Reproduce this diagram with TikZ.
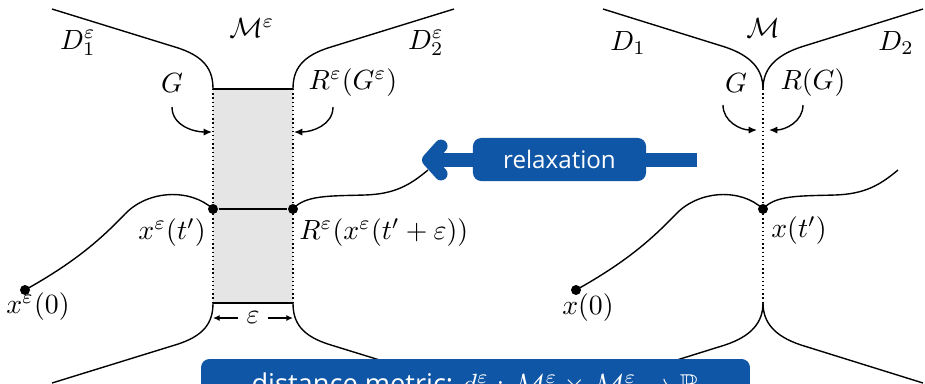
\documentclass[tikz,border=0pt]{standalone}
\usepackage{amsmath,amssymb}
\usepackage{fontspec}
\newfontfamily\boxfont{Open Sans}
\usetikzlibrary{positioning,calc,arrows.meta}
\definecolor{relaxblue}{RGB}{16,86,166}
\tikzset{
  bnd/.style={draw=black, line width=0.5pt},
  gapline/.style={draw=black, densely dotted, line width=0.5pt},
  gapfill/.style={fill=black!10},
  traj/.style={draw=black, line width=0.5pt},
  dot/.style={circle, fill=black, minimum size=3.6pt, inner sep=0pt},
  hook/.style={-{Latex[length=3pt,width=2.6pt]}, line width=0.5pt},
  epsarr/.style={-{Latex[length=2.4pt,width=2.2pt]}, line width=0.5pt},
  lbl/.style={inner sep=1pt},
  bluebox/.style={rectangle, rounded corners=3pt, fill=relaxblue, text=white, font=\boxfont\fontsize{8.7}{10}\selectfont, minimum height=15.5pt, inner sep=2pt},
  bluearr/.style={draw=relaxblue, line width=4.7pt, -{Straight Barb[round,length=4.5pt,width=10pt]}}
}
\begin{document}
\begin{tikzpicture}[x=0.36pt, y=-0.36pt]
  \useasboundingbox (0,0) rectangle (925,383);
  % relaxed junction
  \coordinate (tl) at (213,89);
  \coordinate (tr) at (293,89);
  \coordinate (bl) at (213,303);
  \coordinate (br) at (293,303);
  \fill[gapfill] (tl) rectangle (br);
  \draw[gapline] (tl) -- (bl);
  \draw[gapline] (tr) -- (br);
  \draw[bnd] (tl) -- (tr);
  \draw[bnd] (bl) -- (br);
  \draw[bnd] (52,9) -- (175,47) .. controls (205,56) and (213,70) .. (tl);
  \draw[bnd] (tr) .. controls (293,70) and (301,56) .. (331,47) -- (454,9);
  \draw[bnd] (bl) .. controls (213,322) and (205,336) .. (175,345) -- (52,383);
  \draw[bnd] (br) .. controls (293,322) and (301,336) .. (331,345) -- (454,383);
  % sharp junction
  \coordinate (ct) at (763,89);
  \coordinate (cb) at (763,303);
  \draw[gapline] (ct) -- (cb);
  \draw[bnd] (603,9) -- (725,47) .. controls (752,56) and (763,70) .. (ct);
  \draw[bnd] (ct) .. controls (763,70) and (774,56) .. (801,47) -- (923,9);
  \draw[bnd] (cb) .. controls (763,322) and (752,336) .. (725,345) -- (603,383);
  \draw[bnd] (cb) .. controls (763,322) and (774,336) .. (801,345) -- (923,383);
  % trajectories
  \node[dot] (x0eps) at (25,290) {};
  \node[dot] (xteps) at (213,209) {};
  \node[dot] (Rxeps) at (293,209) {};
  \coordinate (endeps) at (428,170);
  \node[dot] (x0) at (576,290) {};
  \node[dot] (xt) at (763,209) {};
  \coordinate (endx) at (898,170);
  \draw[traj] (x0eps.center) .. controls (75,262) and (100,240) .. (125,214)
    .. controls (148,190) and (190,188) .. (xteps.center);
  \draw[traj] (xteps) -- (Rxeps);
  \draw[traj] (Rxeps.center) .. controls (305,195) and (330,196) .. (365,195)
    .. controls (395,194) and (410,185) .. (endeps);
  \draw[traj] (x0.center) .. controls (626,262) and (651,240) .. (676,214)
    .. controls (699,190) and (741,188) .. (xt.center);
  \draw[traj] (xt.center) .. controls (775,195) and (800,196) .. (835,195)
    .. controls (865,194) and (880,185) .. (endx);
  % labels
  \node[lbl] (Meps) at (252,28) {$\mathcal{M}^\varepsilon$};
  \node[lbl] (D1eps) at (78,43) {$D_1^\varepsilon$};
  \node[lbl] (D2eps) at (426,43) {$D_2^\varepsilon$};
  \node[lbl] (Gl) at (172,83) {$G$};
  \node[lbl] (RGl) at (353,83) {$R^\varepsilon(G^\varepsilon)$};
  \node[lbl, anchor=east] (xtepsl) at (209,233) {$x^\varepsilon(t')$};
  \node[lbl, anchor=west] (Rxepsl) at (296,233) {$R^\varepsilon(x^\varepsilon(t'+\varepsilon))$};
  \node[lbl] (x0epsl) at (38,307) {$x^\varepsilon(0)$};
  \node[lbl] (M) at (763,28) {$\mathcal{M}$};
  \node[lbl] (D1) at (628,43) {$D_1$};
  \node[lbl] (D2) at (896,43) {$D_2$};
  \node[lbl] (Gr) at (736,83) {$G$};
  \node[lbl] (RGr) at (813,83) {$R(G)$};
  \node[lbl, anchor=west] (xtl) at (768,231) {$x(t')$};
  \node[lbl] (x0l) at (588,308) {$x(0)$};
  % gluing arrows
  \coordinate (GlS) at (172,107);
  \coordinate (GlT) at (212,132);
  \coordinate (RGlS) at (333,107);
  \coordinate (RGlT) at (294,132);
  \coordinate (GrS) at (723,105);
  \coordinate (GrT) at (757,130);
  \coordinate (RGrS) at (803,105);
  \coordinate (RGrT) at (769,130);
  \draw[hook] (GlS) to[out=-90, in=180] (GlT);
  \draw[hook] (RGlS) to[out=-90, in=0] (RGlT);
  \draw[hook] (GrS) to[out=-90, in=180] (GrT);
  \draw[hook] (RGrS) to[out=-90, in=0] (RGrT);
  % width of the gap
  \node[inner sep=3pt] (eps) at (253,318) {$\varepsilon$};
  \coordinate (epsL) at (213,318);
  \coordinate (epsR) at (293,318);
  \draw[epsarr] (eps) -- (epsL);
  \draw[epsarr] (eps) -- (epsR);
  % blue boxes
  \coordinate (relaxR) at (697,160);
  \coordinate (relaxL) at (422,160);
  \draw[bluearr] (relaxR) -- (relaxL);
  \node[bluebox, minimum width=62.3pt] (relax) at (559.5,159.5) {relaxation};
  \node[bluebox, minimum width=197.6pt, minimum height=18.5pt, font=\boxfont\fontsize{9.8}{11}\selectfont] (metric) at (475.5,384.7)
    {distance metric: $d^\varepsilon : \mathcal{M}^\varepsilon \times \mathcal{M}^\varepsilon \to \mathbb{R}$};
\end{tikzpicture}
\end{document}
